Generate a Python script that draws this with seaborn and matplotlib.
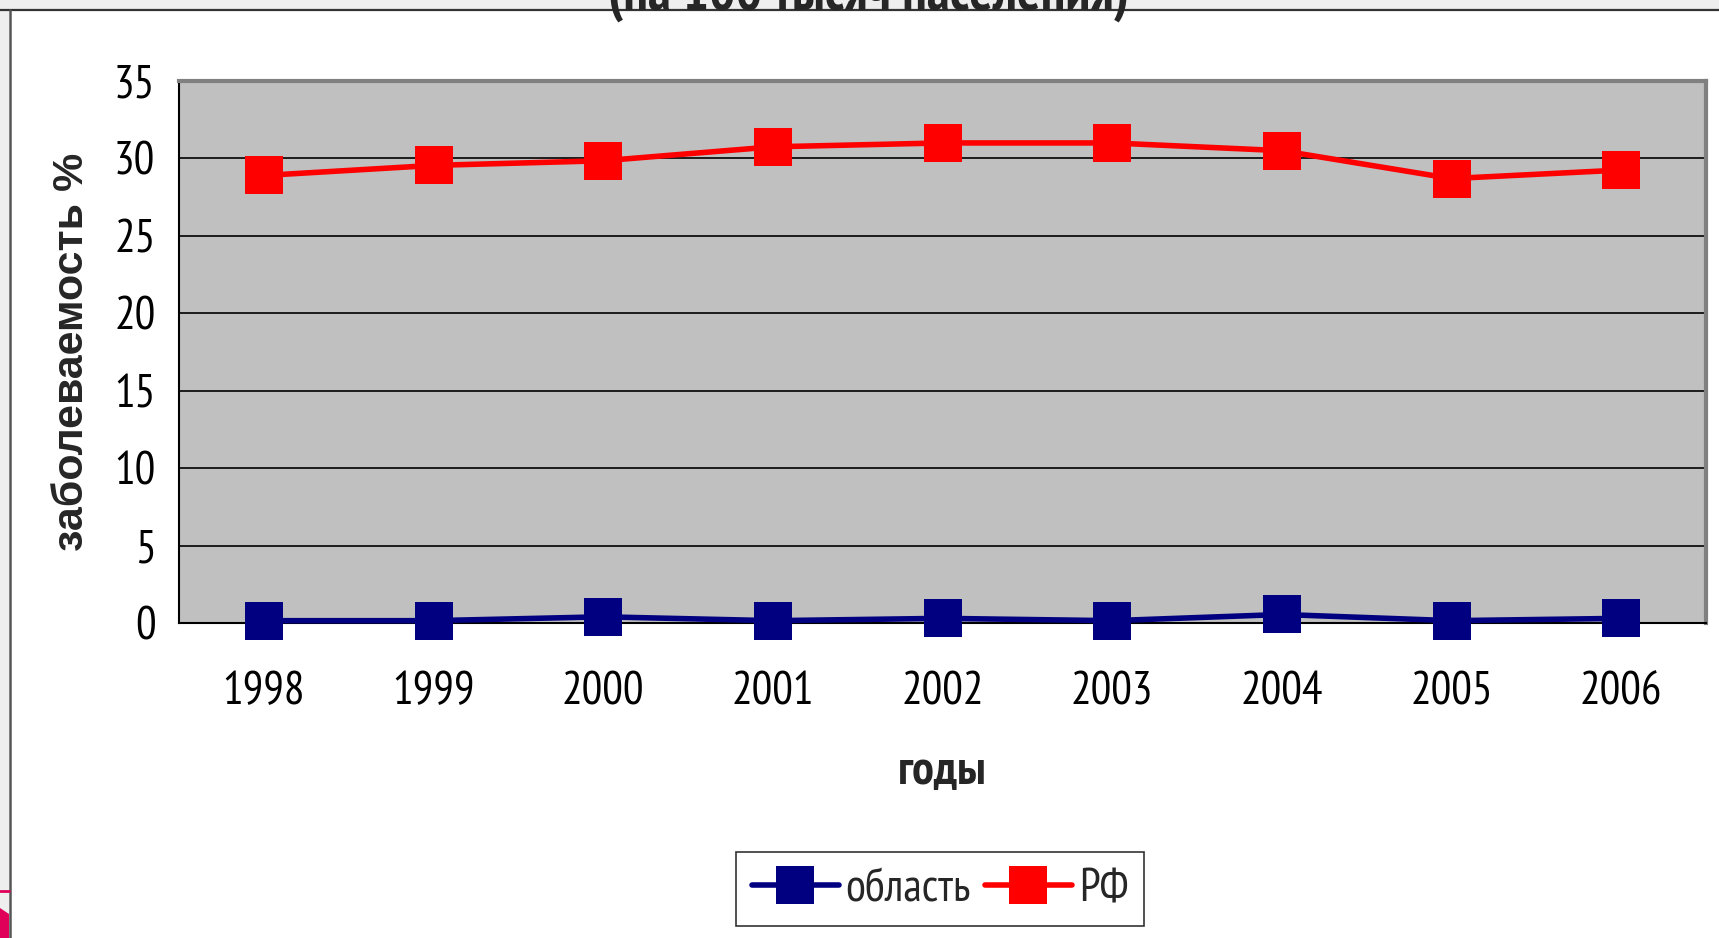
import pandas as pd
import matplotlib
matplotlib.use("Agg")
import matplotlib.pyplot as plt
import seaborn as sns
from matplotlib import font_manager
from matplotlib.lines import Line2D
from matplotlib.patches import Rectangle, Polygon

years   = ["1998", "1999", "2000", "2001", "2002", "2003", "2004", "2005", "2006"]
oblast  = [0.15, 0.15, 0.4, 0.15, 0.3, 0.15, 0.55, 0.15, 0.3]
rf      = [28.9, 29.55, 29.85, 30.75, 31.0, 31.0, 30.5, 28.7, 29.25]
series  = ["область", "РФ"]
colors  = {"область": "#000080", "РФ": "#FF0000"}

names = {f.name for f in font_manager.fontManager.ttflist}
def pick(cands):
    for c in cands:
        if c in names:
            return [c, "DejaVu Sans"]
    return ["DejaVu Sans"]

narrow = pick(["Liberation Sans Narrow", "Arial Narrow", "PT Sans Narrow",
               "Roboto Condensed", "Archivo Narrow", "Sofia Sans Condensed"])
wide   = pick(["Liberation Sans", "Arimo"])

df = pd.DataFrame({
    "год": years * 2,
    "значение": oblast + rf,
    "ряд": [series[0]] * len(years) + [series[1]] * len(years),
})

sns.set_style("white")
fig = plt.figure(figsize=(17.19, 9.38), dpi=100)

# slide frame
fig.patches.append(Rectangle((0, 1 - 9 / 938), 1, 9 / 938, transform=fig.transFigure,
                             facecolor="#EEEEEE", edgecolor="none"))
fig.patches.append(Rectangle((0, 0), 9 / 1719, 1, transform=fig.transFigure,
                             facecolor="#EEEEEE", edgecolor="none"))
fig.lines.append(Line2D([0, 1], [1 - 10 / 938] * 2, transform=fig.transFigure,
                        color="#333333", lw=1.6))
fig.lines.append(Line2D([10 / 1719] * 2, [0, 1 - 10 / 938], transform=fig.transFigure,
                        color="#555555", lw=1.8))
fig.lines.append(Line2D([0, 9 / 1719], [1 - 891 / 938] * 2, transform=fig.transFigure,
                        color="#E0005A", lw=2))
fig.patches.append(Polygon([(0, 0), (9 / 1719, 0), (9 / 1719, 1 - 914 / 938), (0, 1 - 908 / 938)],
                           closed=True, transform=fig.transFigure,
                           facecolor="#E0005A", edgecolor="none"))

ax = fig.add_axes([179 / 1719, 1 - 623 / 938, (1706 - 179) / 1719, (623 - 81) / 938])
ax.set_facecolor("#C0C0C0")

sns.lineplot(data=df, x="год", y="значение", hue="ряд", style="ряд",
             palette=colors, markers={"область": "s", "РФ": "s"}, dashes=False,
             markersize=28, linewidth=4, markeredgewidth=0, legend=False,
             clip_on=False, zorder=5, ax=ax)

ax.set_ylim(0, 35)
ax.set_xlim(-0.5, len(years) - 0.5)
ax.set_yticks(range(0, 36, 5))
ax.yaxis.grid(True, color="black", lw=1.2)
ax.set_axisbelow(True)

for s in ["top", "right"]:
    ax.spines[s].set_color("#808080")
    ax.spines[s].set_linewidth(3)
for s in ["left", "bottom"]:
    ax.spines[s].set_color("black")
    ax.spines[s].set_linewidth(1.5)

ax.set_xticks(range(len(years)))
ax.set_xticklabels(years)
ax.set_xticks([i - 0.5 for i in range(len(years) + 1)], minor=True)
ax.tick_params(axis="x", which="major", length=0, pad=35)
ax.tick_params(axis="x", which="minor", length=10, width=1.2, color="black", direction="out")
ax.tick_params(axis="y", length=9, width=1.2, color="black", direction="out", pad=8)
for lab in ax.get_xticklabels() + ax.get_yticklabels():
    lab.set_family(narrow)
    lab.set_fontsize(33)
    lab.set_color("black")

ax.set_xlabel("годы", family=narrow, fontweight="bold", fontsize=35, labelpad=26)
ax.set_ylabel("заболеваемость %", family=wide, fontweight="bold", fontsize=31, labelpad=16)

handles = [Line2D([0], [0], color=colors[s], lw=4, marker="s", markersize=28,
                  markeredgewidth=0) for s in series]
leg = fig.legend(handles, series, loc="center", bbox_to_anchor=(940 / 1719, 1 - 889 / 938),
                 ncol=2, frameon=True, fancybox=False, handlelength=1.9,
                 columnspacing=0.3, handletextpad=0.15, borderpad=0.35, borderaxespad=0,
                 prop={"family": narrow, "size": 33})
leg.get_frame().set_edgecolor("black")
leg.get_frame().set_linewidth(1.2)

fig.text(869 / 1719, 1 - 10 / 938, "(на 100 тысяч населения)", ha="center", va="baseline",
         family=narrow, fontweight="bold", fontsize=40)

fig.savefig("out.png", dpi=100)
